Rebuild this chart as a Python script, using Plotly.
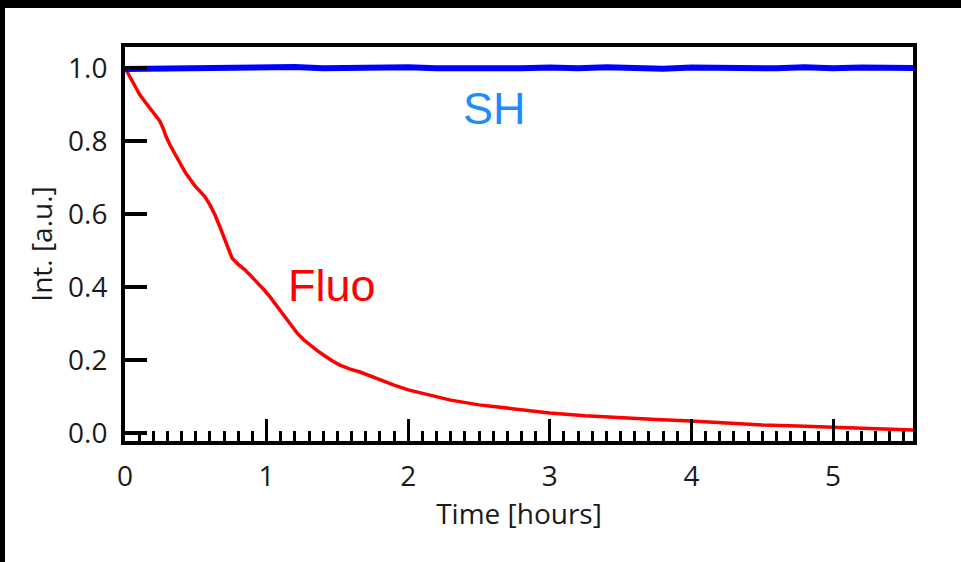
import plotly.graph_objects as go

# Fluorescence decay
fluo_t = [0.0, 0.053, 0.106, 0.16, 0.212, 0.245, 0.268, 0.29, 0.318, 0.37, 0.424, 0.46,
          0.494, 0.53, 0.565, 0.60, 0.636, 0.67, 0.706, 0.735, 0.756, 0.80,
          0.847, 0.89, 0.939, 0.98, 1.024, 1.07, 1.116, 1.165, 1.215, 1.26, 1.306,
          1.36, 1.412, 1.465, 1.518, 1.59, 1.66, 1.73, 1.80, 1.90, 2.0, 2.15,
          2.3, 2.5, 2.75, 3.0, 3.25, 3.5, 3.75, 4.0, 4.25, 4.5, 4.75, 5.0, 5.3, 5.565]
fluo_v = [1.0, 0.965, 0.926, 0.898, 0.871, 0.855, 0.836, 0.812, 0.789, 0.752, 0.715, 0.695,
          0.677, 0.662, 0.647, 0.625, 0.597, 0.565, 0.529, 0.497, 0.479, 0.462,
          0.447, 0.430, 0.411, 0.393, 0.373, 0.349, 0.323, 0.298, 0.274, 0.256, 0.241,
          0.225, 0.211, 0.197, 0.186, 0.175, 0.167, 0.156, 0.145, 0.131, 0.118, 0.103,
          0.090, 0.077, 0.065, 0.055, 0.047, 0.041, 0.037, 0.033, 0.027, 0.022, 0.019,
          0.016, 0.012, 0.008]

# Second harmonic signal
sh_t = [0.0, 0.2, 0.4, 0.6, 0.8, 1.0, 1.2, 1.4, 1.6, 1.8, 2.0, 2.2, 2.4, 2.6, 2.8, 3.0,
        3.2, 3.4, 3.6, 3.8, 4.0, 4.2, 4.4, 4.6, 4.8, 5.0, 5.2, 5.4, 5.565]
sh_v = [0.997, 0.998, 0.999, 1.002, 0.999, 1.001, 1.003, 0.999, 1.001, 0.999, 1.002,
        0.999, 0.998, 1.001, 0.999, 1.001, 0.999, 1.002, 1.000, 0.998, 1.001, 0.999,
        1.001, 0.999, 1.002, 0.999, 1.001, 0.999, 1.000]

x_ticks = [0, 1, 2, 3, 4, 5]
y_ticks = [0.0, 0.2, 0.4, 0.6, 0.8, 1.0]
y_tick_labels = ["0.0", "0.2", "0.4", "0.6", "0.8", "1.0"]

W, H = 961, 562
L, R, T, B = 125, 48, 47, 121
PW, PH = W - L - R, H - T - B

fig = go.Figure()
fig.add_trace(go.Scatter(x=fluo_t, y=fluo_v, mode="lines",
                         line=dict(color="#ff0000", width=3.5), showlegend=False))
fig.add_trace(go.Scatter(x=sh_t, y=sh_v, mode="lines",
                         line=dict(color="#0000ff", width=6), showlegend=False))

fig.add_annotation(x=2.61, y=0.89, text="SH", showarrow=False,
                   font=dict(family="Liberation Sans, Arial", size=45, color="#1e8cff"))
fig.add_annotation(x=1.46, y=0.405, text="Fluo", showarrow=False,
                   font=dict(family="Liberation Sans, Arial", size=45, color="#ff0000"))

tickfont = dict(family="Open Sans", size=28, color="#1a1a1a")

fig.update_xaxes(range=[0, 5.565], tickvals=x_ticks, ticktext=[str(v) for v in x_ticks],
                 showline=True, linewidth=4, linecolor="black", mirror=True,
                 ticks="inside", ticklen=22, tickwidth=3, tickcolor="black",
                 minor=dict(dtick=0.1, tick0=0, ticks="inside", ticklen=10,
                            tickwidth=3, tickcolor="black"),
                 showgrid=False, zeroline=False, tickfont=tickfont,
                 ticklabelstandoff=7,
                 title=dict(text="Time [hours]", font=tickfont, standoff=6))
fig.update_yaxes(range=[-0.022, 1.0575], tickvals=y_ticks, ticktext=y_tick_labels,
                 showline=True, linewidth=4, linecolor="black", mirror=True,
                 ticks="inside", ticklen=22, tickwidth=4, tickcolor="black",
                 showgrid=False, zeroline=False, tickfont=tickfont,
                 ticklabelstandoff=8,
                 title=dict(text="Int. [a.u.]", font=tickfont, standoff=8))

# black strips at top and left edges of the picture
fig.add_shape(type="rect", xref="paper", yref="paper",
              x0=-L / PW, x1=1 + R / PW, y0=1 + (T - 8) / PH, y1=1 + T / PH,
              fillcolor="black", line=dict(width=0), layer="above")
fig.add_shape(type="rect", xref="paper", yref="paper",
              x0=-L / PW, x1=(5 - L) / PW, y0=-B / PH, y1=1 + T / PH,
              fillcolor="black", line=dict(width=0), layer="above")

fig.update_layout(width=W, height=H, margin=dict(l=L, r=R, t=T, b=B, autoexpand=False),
                  plot_bgcolor="white", paper_bgcolor="white")

fig.write_html("out.html")
